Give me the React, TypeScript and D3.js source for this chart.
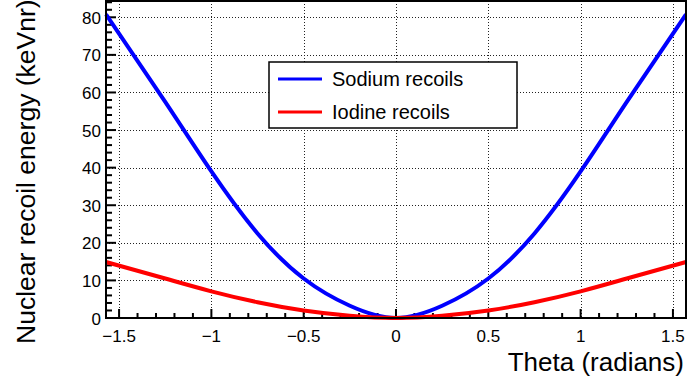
import { useEffect, useRef } from "react";
import * as d3 from "d3";

// recoil energy vs scattering angle
const thetaValues = [-1.5708, -1.25, -1.0, -0.75, -0.5, -0.25, 0, 0.25, 0.5, 0.75, 1.0, 1.25, 1.5708];
const sodiumValues = [80.8, 57.5, 39.0, 22.5, 10.5, 3.25, 0, 3.25, 10.5, 22.5, 39.0, 57.5, 80.8];
const iodineValues = [14.9, 10.5, 7.1, 4.2, 2.0, 0.6, 0, 0.6, 2.0, 4.2, 7.1, 10.5, 14.9];
const xTicks = [-1.5, -1, -0.5, 0, 0.5, 1, 1.5];
const yTicks = [0, 10, 20, 30, 40, 50, 60, 70, 80];
const legendLabels = ["Sodium recoils", "Iodine recoils"];

const FONT = "'Liberation Sans', Arial, Helvetica, sans-serif";

export default function App() {
  const svgRef = useRef<SVGSVGElement | null>(null);

  useEffect(() => {
    const width = 687;
    const height = 379;
    const frame = { left: 106, right: 686, top: 1, bottom: 318 };

    const svg = d3.select(svgRef.current);
    svg.selectAll("*").remove();
    svg.attr("width", width).attr("height", height);

    const x = d3.scaleLinear().domain([-Math.PI / 2, Math.PI / 2]).range([frame.left, frame.right]);
    const y = d3.scaleLinear().domain([0, 84.6]).range([frame.bottom, 0]);

    svg.append("rect").attr("width", width).attr("height", height).attr("fill", "#fff");

    // dotted grid
    const grid = svg.append("g").attr("stroke", "#222").attr("stroke-width", 1).attr("stroke-dasharray", "1,2");
    xTicks.forEach((t) => {
      grid.append("line")
        .attr("x1", Math.round(x(t)) + 0.5).attr("x2", Math.round(x(t)) + 0.5)
        .attr("y1", frame.top).attr("y2", frame.bottom);
    });
    yTicks.forEach((t) => {
      grid.append("line")
        .attr("x1", frame.left).attr("x2", frame.right)
        .attr("y1", Math.round(y(t)) + 0.5).attr("y2", Math.round(y(t)) + 0.5);
    });

    // ticks, pointing into the frame
    const ticks = svg.append("g").attr("stroke", "#000").attr("stroke-width", 2);
    d3.range(-15, 16).forEach((i) => {
      const t = i / 10;
      const major = i % 5 === 0;
      ticks.append("line")
        .attr("x1", x(t)).attr("x2", x(t))
        .attr("y1", frame.bottom).attr("y2", frame.bottom - (major ? 9 : 5));
    });
    d3.range(0, 43).forEach((i) => {
      const v = i * 2;
      if (y(v) < frame.top) return;
      const major = v % 10 === 0;
      ticks.append("line")
        .attr("x1", frame.left).attr("x2", frame.left + (major ? 10 : 6))
        .attr("y1", y(v)).attr("y2", y(v));
    });

    // curves
    const line = d3.line<number>()
      .x((_, i) => x(thetaValues[i]))
      .y((d) => y(d))
      .curve(d3.curveNatural);

    svg.append("path").datum(sodiumValues).attr("d", line)
      .attr("fill", "none").attr("stroke", "#0000ff").attr("stroke-width", 4);
    svg.append("path").datum(iodineValues).attr("d", line)
      .attr("fill", "none").attr("stroke", "#ff0000").attr("stroke-width", 4);

    // frame
    svg.append("rect")
      .attr("x", frame.left).attr("y", frame.top)
      .attr("width", frame.right - frame.left).attr("height", frame.bottom - frame.top)
      .attr("fill", "none").attr("stroke", "#000").attr("stroke-width", 2);

    // tick labels
    svg.append("g").selectAll("text").data(xTicks).join("text")
      .attr("x", (d) => x(d)).attr("y", 342)
      .attr("text-anchor", "middle")
      .attr("font-family", FONT).attr("font-size", 17)
      .text((d) => String(d).replace("-", "\u2212"));

    svg.append("g").selectAll("text").data(yTicks).join("text")
      .attr("x", 101).attr("y", (d) => y(d) + 6.5)
      .attr("text-anchor", "end")
      .attr("font-family", FONT).attr("font-size", 17)
      .text((d) => d);

    // axis titles
    svg.append("text")
      .attr("x", 684).attr("y", 371)
      .attr("text-anchor", "end")
      .attr("font-family", FONT).attr("font-size", 26)
      .text("Theta (radians)");

    svg.append("text")
      .attr("transform", "translate(35,344) rotate(-90)")
      .attr("text-anchor", "start")
      .attr("font-family", FONT).attr("font-size", 26.5)
      .text("Nuclear recoil energy (keVnr)");

    // legend
    const legend = svg.append("g");
    legend.append("rect")
      .attr("x", 269).attr("y", 62).attr("width", 248).attr("height", 66)
      .attr("fill", "#fff").attr("stroke", "#000").attr("stroke-width", 1.5);
    const colors = ["#0000ff", "#ff0000"];
    legendLabels.forEach((label, i) => {
      const ly = 79 + i * 33;
      legend.append("line")
        .attr("x1", 278).attr("x2", 322).attr("y1", ly).attr("y2", ly)
        .attr("stroke", colors[i]).attr("stroke-width", 3);
      legend.append("text")
        .attr("x", 332).attr("y", ly + 7)
        .attr("font-family", FONT).attr("font-size", 20)
        .text(label);
    });
  }, []);

  return (
    <svg
      ref={svgRef}
      style={{ position: "absolute", left: 0, top: 0, display: "block" }}
    />
  );
}
